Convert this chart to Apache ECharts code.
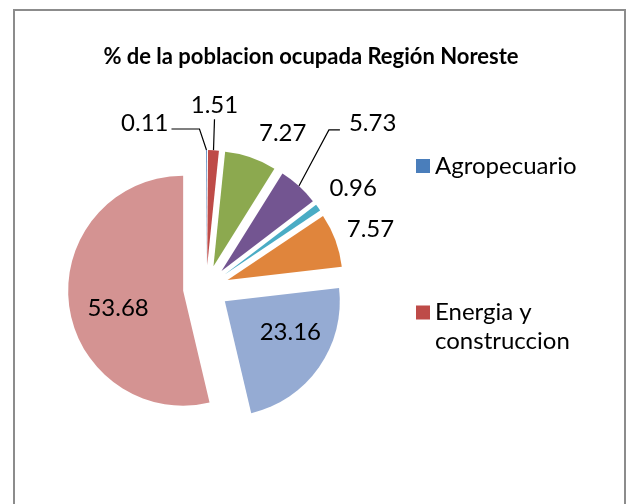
<!DOCTYPE html>
<html>
<head>
<meta charset="utf-8">
<script src="https://cdn.jsdelivr.net/npm/echarts@6/dist/echarts.min.js"></script>
<style>
  html, body { margin: 0; padding: 0; background: #fff; }
  #pieChart { width: 628px; height: 504px; }
</style>
</head>
<body>
<div id="pieChart"></div>
<script>
// sectors, clockwise from 12 o'clock
var sectorNames = ['Agropecuario', 'Energia y construccion', 'Sector 3', 'Sector 4',
                   'Sector 5', 'Sector 6', 'Sector 7', 'Sector 8'];
var sectorValues = [0.11, 1.51, 7.27, 5.73, 0.96, 7.57, 23.16, 53.68];
var legendNames = ['Agropecuario', 'Energia y construccion'];

var sectorColors = ['#4A7EBB', '#BE4B48', '#8CA94F', '#735591', '#4AACC5', '#E0853C', '#95ABD3', '#D49392'];

// label tweaks. 'line' labels get a bent leader starting where ECharts starts it,
// the text is then hung off the end of that leader (anchor: which text edge sits there).
// 'free' labels: text only, shifted from the leader start. 'in': inside the slice.
var labelTweak = [
  { kind: 'line', bend: [-7, -21], run: -28, tx: -3, ty: -6, anchor: 'right' },
  { kind: 'line', bend: [1, -31],  run: 0,   tx: 0,  ty: -14, anchor: 'bottom' },
  { kind: 'free', dx: 32, dy: -24 },
  { kind: 'line', bend: [30, -56], run: 11,  tx: 9,  ty: -7, anchor: 'left' },
  { kind: 'free', dx: 35, dy: -19 },
  { kind: 'free', dx: 35, dy: -11 },
  { kind: 'in', dx: 16, dy: -4 },
  { kind: 'in', dx: -5, dy: 11 }
];

var myPieChart = echarts.init(document.getElementById('pieChart'));

var pieData = sectorValues.map(function (v, i) {
  var t = labelTweak[i];
  return {
    name: sectorNames[i],
    value: v,
    selected: true,
    itemStyle: { color: sectorColors[i] },
    select: { itemStyle: { color: sectorColors[i] } },
    label: { position: t.kind === 'in' ? 'inside' : 'outside' },
    labelLine: {
      show: t.kind !== 'in',
      length: 10,
      length2: 0,
      lineStyle: { opacity: t.kind === 'line' ? 1 : 0 }
    }
  };
});

function placeLabel(params) {
  var t = labelTweak[params.dataIndex];
  if (t.kind === 'in') {
    return { dx: t.dx, dy: t.dy };
  }
  var r = params.labelRect;
  var cx = r.x + r.width / 2;
  var cy = r.y + r.height / 2;
  var p0 = params.labelLinePoints[0];
  if (t.kind === 'free') {
    return { dx: p0[0] + t.dx - cx, dy: p0[1] + t.dy - cy };
  }
  var p1 = [p0[0] + t.bend[0], p0[1] + t.bend[1]];
  var p2 = [p1[0] + t.run, p1[1]];
  var ax = p2[0] + t.tx;
  var ay = p2[1] + t.ty;
  var dx, dy;
  if (t.anchor === 'right') {
    dx = ax - (r.x + r.width); dy = ay - cy;
  } else if (t.anchor === 'left') {
    dx = ax - r.x; dy = ay - cy;
  } else {
    dx = ax - cx; dy = ay - cy;
  }
  return { dx: dx, dy: dy, labelLinePoints: [p0, p1, p2] };
}

var myPieOption = {
  backgroundColor: '#ffffff',
  animation: false,
  textStyle: { fontFamily: 'Lato' },
  title: {
    text: '% de la poblacion ocupada Región Noreste',
    left: 306,
    textAlign: 'center',
    top: 41,
    textStyle: { fontFamily: 'Lato', fontSize: 22, fontWeight: 'bold', color: '#000' }
  },
  graphic: [{
    type: 'rect',
    shape: { x: 14, y: 10, width: 611, height: 510 },
    style: { fill: 'none', stroke: '#8c8c8c', lineWidth: 2 },
    silent: true
  }],
  legend: [{
    data: [legendNames[0]],
    left: 411,
    top: 147,
    orient: 'vertical',
    itemWidth: 14,
    itemHeight: 14,
    icon: 'rect',
    selectedMode: false,
    textStyle: { fontFamily: 'Lato', fontSize: 24, lineHeight: 28, color: '#000' }
  }, {
    data: [legendNames[1]],
    left: 411,
    top: 293,
    orient: 'vertical',
    itemWidth: 14,
    itemHeight: 43,
    icon: 'path://M0,0h14v14h-14zM0,43h0.01',
    selectedMode: false,
    formatter: function (name) { return name.replace('y ', 'y\n'); },
    textStyle: { fontFamily: 'Lato', fontSize: 24, lineHeight: 29, color: '#000' }
  }],
  series: [{
    type: 'pie',
    center: [206, 288],
    radius: 115,
    startAngle: 90,
    clockwise: true,
    selectedMode: 'multiple',
    selectedOffset: 23,
    avoidLabelOverlap: false,
    emphasis: { disabled: true },
    label: {
      fontFamily: 'Lato',
      fontSize: 24,
      color: '#000',
      formatter: function (p) { return p.value.toFixed(2); }
    },
    labelLine: { lineStyle: { color: '#000', width: 1.2 }, smooth: false },
    labelLayout: placeLabel,
    data: pieData
  }]
};

myPieOption && myPieChart.setOption(myPieOption);
</script>
</body>
</html>
